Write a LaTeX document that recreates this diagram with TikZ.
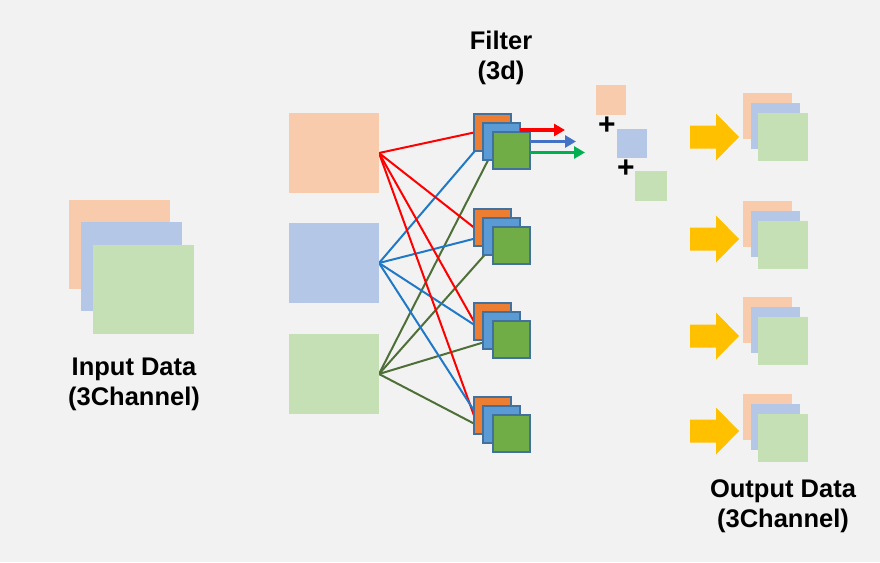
\documentclass[tikz,border=0pt]{standalone}
\usepackage{fontspec}
\setmainfont{Liberation Sans}
\usetikzlibrary{arrows.meta}
\definecolor{bgc}{HTML}{F2F2F2}
\definecolor{porange}{HTML}{F8CBAD}
\definecolor{pblue}{HTML}{B4C7E7}
\definecolor{pgreen}{HTML}{C5E0B4}
\definecolor{forange}{HTML}{ED7D31}
\definecolor{fblue}{HTML}{5B9BD5}
\definecolor{fgreen}{HTML}{70AD47}
\definecolor{fborder}{HTML}{41719C}
\definecolor{lred}{HTML}{FF0000}
\definecolor{lblue}{HTML}{2079C7}
\definecolor{lgreen}{HTML}{4F6F38}
\definecolor{ablue}{HTML}{4472C4}
\definecolor{agreen}{HTML}{00B050}
\definecolor{ayellow}{HTML}{FFC000}
\pgfdeclarelayer{bg}
\pgfdeclarelayer{lines}
\pgfsetlayers{bg,lines,main}
\begin{document}
\begin{tikzpicture}[x=1pt,y=-1pt,
  pastel/.style={rectangle,inner sep=0pt,outer sep=0pt,anchor=north west,draw=none},
  fsq/.style={rectangle,inner sep=0pt,outer sep=0pt,anchor=north west,draw=fborder,line width=1.2pt,minimum width=37pt,minimum height=37pt},
  conn/.style={line width=2pt},
  outarrow/.style={line width=3.2pt,-{Triangle[length=11pt,width=12pt]}},
  lbl/.style={font=\bfseries\fontsize{25.5}{30}\selectfont,anchor=base,inner sep=0pt},
  plus/.style={font=\bfseries\fontsize{30}{30}\selectfont,inner sep=0pt},
  yarrow/.style={fill=ayellow,draw=none}]
\begin{pgfonlayer}{bg}
\fill[bgc] (0,0) rectangle (880,562);
\end{pgfonlayer}
\useasboundingbox (0,0) rectangle (880,562);

% input data stack
\node[pastel,fill=porange,minimum width=101pt,minimum height=89pt] (in1) at (69,200) {};
\node[pastel,fill=pblue,minimum width=101pt,minimum height=89pt] (in2) at (81,222) {};
\node[pastel,fill=pgreen,minimum width=101pt,minimum height=89pt] (in3) at (93,245) {};
\node[lbl] (inl1) at (134,375) {Input Data};
\node[lbl] (inl2) at (134,405) {(3Channel)};

% separated channels
\node[pastel,fill=porange,minimum width=90pt,minimum height=80pt] (bo) at (289,113) {};
\node[pastel,fill=pblue,minimum width=90pt,minimum height=80pt] (bb) at (289,223) {};
\node[pastel,fill=pgreen,minimum width=90pt,minimum height=80pt] (bg) at (289,334) {};

% filters
\foreach \i/\y in {1/114,2/209,3/303,4/397}{
  \node[fsq,fill=forange] (fo\i) at (474,\y) {};
  \node[fsq,fill=fblue] (fb\i) at (483,\y+9) {};
  \node[fsq,fill=fgreen] (fg\i) at (493,\y+18) {};
}
\node[lbl] (fl1) at (501,49) {Filter};
\node[lbl] (fl2) at (501,79) {(3d)};

% connections
\begin{pgfonlayer}{lines}
\foreach \i in {1,...,4}{
  \draw[conn,lred] (bo.east) -- (fo\i.west);
  \draw[conn,lblue] (bb.east) -- (fb\i.west);
  \draw[conn,lgreen] (bg.east) -- (fg\i.west);
}
\end{pgfonlayer}

% arrows from first filter
\draw[outarrow,lred] ([yshift=-7pt]fb1.north east) coordinate (ra) -- ++(45,0) coordinate (rb);
\draw[outarrow,ablue] ([yshift=9pt]fg1.east) coordinate (ba) -- ++(46,0) coordinate (bb2);
\draw[outarrow,agreen] ([yshift=-2pt]fg1.east) coordinate (ga) -- ++(55,0) coordinate (gb);

% small channel results and plus signs
\node[pastel,fill=porange,minimum width=30pt,minimum height=30pt] (so) at (596,85) {};
\node[pastel,fill=pblue,minimum width=30pt,minimum height=29pt] (sb) at (617,129) {};
\node[pastel,fill=pgreen,minimum width=32pt,minimum height=30pt] (sg) at (635,171) {};
\node[plus] (p1) at (607,126) {+};
\node[plus] (p2) at (626,169) {+};

% output arrows and stacks
\foreach \t/\s in {137/93,239/201,336/297,431/394}{
  \fill[yarrow] (690,\t-11.5) -- (716,\t-11.5) -- (716,\t-23.5) -- (739,\t)
     -- (716,\t+23.5) -- (716,\t+11.5) -- (690,\t+11.5) -- cycle;
  \node[pastel,fill=porange,minimum width=49pt,minimum height=46pt] (oo\s) at (743,\s) {};
  \node[pastel,fill=pblue,minimum width=49pt,minimum height=46pt] (ob\s) at (751,\s+10) {};
  \node[pastel,fill=pgreen,minimum width=50pt,minimum height=48pt] (og\s) at (758,\s+20) {};
}
\node[lbl] (ol1) at (783,497) {Output Data};
\node[lbl] (ol2) at (783,527) {(3Channel)};
\end{tikzpicture}
\end{document}
